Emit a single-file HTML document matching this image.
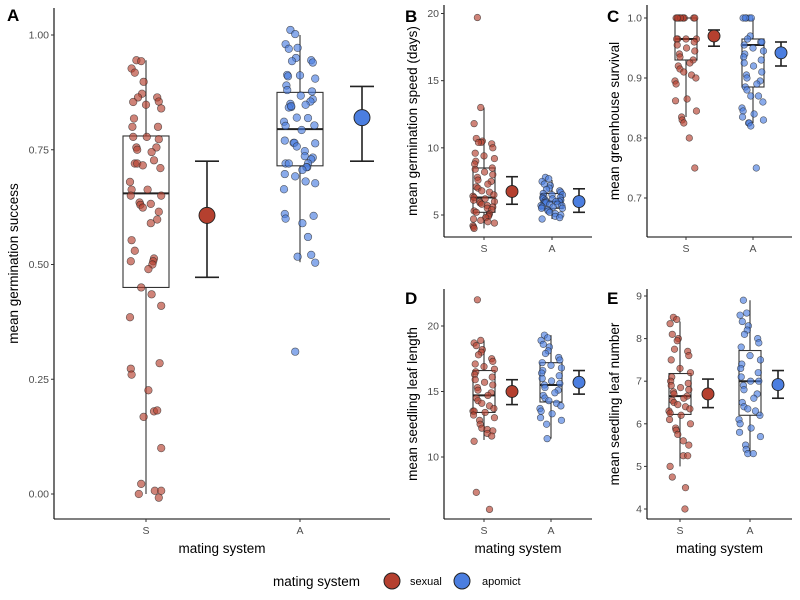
<!DOCTYPE html>
<html><head><meta charset="utf-8">
<style>
body{margin:0;background:#fff;}
svg{display:block;font-family:"Liberation Sans",Arial,sans-serif;}
</style></head>
<body>
<svg id="chart" width="800" height="600" viewBox="0 0 800 600"></svg>
<script>
// ---- data ----
const categories = ["S","A"];
const groupNames = ["sexual","apomict"];
// Panel A: germination success
const aSexual = [.945,.943,.927,.918,.898,.872,.864,.864,.855,.854,.848,.84,.818,.80,.80,.778,.778,.773,.755,.75,.755,.745,.72,.72,.716,.727,.71,.68,.663,.663,.65,.65,.635,.63,.624,.632,.615,.59,.598,.553,.53,.513,.507,.5,.49,.507,.45,.435,.41,.385,.273,.26,.285,.226,.18,.182,.168,.10,.022,0,.007,.007,-.008];
const aApomict = [1.011,1.002,.98,.97,.972,.95,.943,.945,.94,.913,.912,.905,.91,.89,.877,.88,.868,.86,.85,.843,.855,.848,.842,.845,.82,.819,.803,.811,.802,.793,.77,.764,.765,.765,.757,.747,.733,.736,.729,.72,.72,.72,.712,.712,.706,.697,.692,.681,.677,.664,.61,.60,.606,.59,.56,.521,.517,.504,.31];
const aBox = {S:[0,.45,.655,.78,.945], A:[.505,.715,.795,.875,1.0]};
const aMean = [0.607,0.82]; const aLo=[0.472,0.725]; const aHi=[0.725,0.888];
// Panel B: germination speed
const bSexual = [19.7,13.0,11.8,10.7,10.5,10.4,10.4,10.3,10.0,9.6,9.4,9.2,9.0,8.8,8.5,8.4,8.2,8.0,7.8,7.6,7.5,7.3,7.1,7.0,6.8,6.7,6.5,6.4,6.3,6.2,6.1,6.0,6.0,5.9,5.8,5.7,5.6,5.5,5.4,5.3,5.2,5.1,5.0,4.9,4.8,4.7,4.6,4.5,4.4,4.2,4.1,4.0];
const bApomict = [7.8,7.7,7.5,7.3,7.2,7.0,6.9,6.8,6.7,6.6,6.5,6.5,6.4,6.3,6.3,6.2,6.2,6.1,6.1,6.0,6.0,6.0,5.9,5.9,5.8,5.8,5.7,5.7,5.6,5.6,5.5,5.5,5.4,5.3,5.2,5.1,5.0,4.9,4.8,4.7];
const bBox = {S:[4.0,5.2,6.3,8.5,13.0], A:[4.7,5.5,6.0,6.6,7.6]};
const bMean=[6.75,6.0]; const bLo=[5.8,5.2]; const bHi=[7.85,6.95];
// Panel C: greenhouse survival
const cSexual = [1,1,1,1,1,1,1,1,1,1,.965,.965,.965,.965,.96,.955,.95,.945,.94,.935,.93,.925,.92,.915,.91,.905,.90,.895,.89,.865,.862,.845,.835,.83,.825,.80,.75];
const cApomict = [1,1,1,1,1,.97,.965,.96,.96,.955,.95,.945,.94,.935,.93,.925,.92,.91,.905,.90,.895,.89,.885,.88,.87,.87,.86,.85,.845,.84,.835,.83,.825,.825,.82,.75];
const cBox = {S:[.835,.93,.965,1.0,1.0], A:[.825,.885,.955,.965,1.0]};
const cMean=[.97,.942]; const cLo=[.953,.92]; const cHi=[.98,.96];
// Panel D: seedling leaf length
const dSexual = [22.0,18.9,18.7,18.5,18.2,18.0,17.8,17.5,17.3,17.1,16.9,16.7,16.5,16.3,16.1,15.9,15.7,15.5,15.3,15.1,14.9,14.7,14.5,14.3,14.1,13.9,13.7,13.5,13.5,13.4,13.2,13.0,12.8,12.5,12.2,12.1,12.0,11.8,11.6,11.2,7.3,6.0];
const dApomict = [19.3,19.1,18.9,18.6,18.4,18.1,17.9,17.6,17.4,17.2,17.0,16.8,16.6,16.4,16.2,16.0,15.8,15.6,15.5,15.3,15.1,14.9,14.7,14.5,14.3,14.1,13.9,13.7,13.5,13.3,13.0,12.8,12.5,11.4];
const dBox = {S:[11.3,13.4,14.7,16.6,18.9], A:[11.4,14.2,15.5,17.2,19.3]};
const dMean=[15.0,15.7]; const dLo=[14.0,14.8]; const dHi=[15.9,16.6];
// Panel E: seedling leaf number
const eSexual = [8.5,8.45,8.35,8.1,8.0,7.95,7.75,7.7,7.6,7.5,7.3,7.2,7.1,7.0,6.95,6.9,6.85,6.8,6.75,6.7,6.65,6.6,6.55,6.5,6.45,6.4,6.35,6.3,6.25,6.2,6.1,6.0,5.9,5.85,5.75,5.6,5.5,5.25,5.25,5.0,4.75,4.5,4.0];
const eApomict = [8.9,8.6,8.55,8.4,8.3,8.2,8.1,8.0,7.9,7.8,7.6,7.5,7.4,7.3,7.2,7.1,7.0,7.0,6.9,6.8,6.7,6.6,6.5,6.4,6.35,6.3,6.2,6.1,6.0,5.9,5.8,5.7,5.5,5.4,5.3,5.3];
const eBox = {S:[5.0,6.22,6.65,7.18,8.4], A:[5.3,6.2,7.0,7.72,8.9]};
const eMean=[6.7,6.92]; const eLo=[6.38,6.6]; const eHi=[7.05,7.25];
// fixed jitter pattern (fraction of jitter width)
const jitter = [-.6,-.3,-.9,-.7,-.15,-.25,-.5,.7,.8,-.8,0,.95,-.75,-.85,.75,-.8,.05,.8,-.6,-.55,.65,.35,-.7,-.55,-.2,.5,.9,-1,-.9,.1,-.95,.95,-.4,-.35,-.2,.3,.8,.3,.7,-.9,-.7,.5,.45,.4,.15,-.95,-.3,.35,.95,-1,-.95,-.9,.85,.15,.5,.7,-.15,.95,-.3,-.45,.55,.95,.8,.6,-.45,.2,-.65,.1,.4,-.1];

const NS="http://www.w3.org/2000/svg";
const svg=document.getElementById('chart');
function el(tag,attrs,parent){const e=document.createElementNS(NS,tag);for(const k in attrs)e.setAttribute(k,attrs[k]);(parent||svg).appendChild(e);return e;}
const RED="#b5402f", BLUE="#4b7ee0";

function panel(p){
  const g=el('g',{});
  
  
  const y=v=>p.y0+(v-p.v0)*(p.y1-p.y0)/(p.v1-p.v0);
  // axes
  const ya=el('line',{x1:p.ax,y1:p.top,x2:p.ax,y2:p.bottom,stroke:'#000','stroke-width':1.1},g);
  
  const xa=el('line',{x1:p.ax,y1:p.bottom,x2:p.right,y2:p.bottom,stroke:'#000','stroke-width':1.1},g);
  
  p.ticks.forEach((t,i)=>{
    const yy=y(t);
    el('line',{x1:p.ax-3,y1:yy,x2:p.ax,y2:yy,stroke:'#333'},g);
    const tx=el('text',{x:p.ax-5,y:yy+3.5,'text-anchor':'end','font-size':10.5,fill:'#4d4d4d'},g);
    tx.textContent=p.tickLabels[i];
    
  });
  categories.forEach((c,i)=>{
    const cx=p.cx[i];
    el('line',{x1:cx,y1:p.bottom,x2:cx,y2:p.bottom+3,stroke:'#333'},g);
    const tx=el('text',{x:cx,y:p.bottom+15,'text-anchor':'middle','font-size':10.5,fill:'#4d4d4d'},g);
    tx.textContent=c;
    
    // box
    const b=p.box[c];
    const hw=p.bw;
    el('line',{x1:cx,y1:y(b[0]),x2:cx,y2:y(b[1]),stroke:'#333','stroke-width':1.1},g);
    el('line',{x1:cx,y1:y(b[3]),x2:cx,y2:y(b[4]),stroke:'#333','stroke-width':1.1},g);
    const r=el('rect',{x:cx-hw,y:y(b[3]),width:2*hw,height:y(b[1])-y(b[3]),fill:'none',stroke:'#333','stroke-width':1.1},g);
    
    el('line',{x1:cx-hw,y1:y(b[2]),x2:cx+hw,y2:y(b[2]),stroke:'#222','stroke-width':2},g);
    // points
    const vals=i===0?p.s:p.a;
    vals.forEach((v,k)=>{
      const c1=el('circle',{cx:cx+jitter[k%jitter.length]*p.jw,cy:y(v),r:p.pr,fill:i===0?RED:BLUE,'fill-opacity':0.65,stroke:'#222','stroke-opacity':0.7,'stroke-width':0.6},g);
      
      
    });
    // mean + CI
    const mx=p.mx[i];
    el('line',{x1:mx,y1:y(p.lo[i]),x2:mx,y2:y(p.hi[i]),stroke:'#222','stroke-width':1.6},g);
    el('line',{x1:mx-p.cap,y1:y(p.lo[i]),x2:mx+p.cap,y2:y(p.lo[i]),stroke:'#222','stroke-width':1.6},g);
    el('line',{x1:mx-p.cap,y1:y(p.hi[i]),x2:mx+p.cap,y2:y(p.hi[i]),stroke:'#222','stroke-width':1.6},g);
    const m=el('circle',{cx:mx,cy:y(p.mean[i]),r:p.mr,fill:i===0?RED:BLUE,stroke:'#222','stroke-width':0.9},g);
    
  });
  const yt=el('text',{x:0,y:0,transform:`translate(${p.ytx},${(p.top+p.bottom)/2}) rotate(-90)`,'text-anchor':'middle','font-size':13.5,fill:'#000'},g);
  yt.textContent=p.ytitle;
  
  if(p.xtitle){
    const xt=el('text',{x:(p.ax+p.right)/2,y:p.bottom+34,'text-anchor':'middle','font-size':13.5,fill:'#000'},g);
    xt.textContent='mating system';
    
  }
  const lab=el('text',{x:p.lx,y:p.ly,'font-size':17,'font-weight':'bold',fill:'#000'},g);
  lab.textContent=p.key;
  
}

panel({key:'A',ax:54,right:390,top:8,bottom:519,v0:0,v1:1,y0:494,y1:35,ticks:[0,.25,.5,.75,1],tickLabels:['0.00','0.25','0.50','0.75','1.00'],
  cx:[146,300],mx:[207,362],bw:23,jw:16,pr:3.8,mr:8,cap:12,s:aSexual,a:aApomict,box:aBox,mean:aMean,lo:aLo,hi:aHi,
  ytitle:'mean germination success',ytx:18,xtitle:true,lx:7,ly:21});
panel({key:'B',ax:444,right:592,top:5,bottom:237,v0:5,v1:20,y0:215,y1:13.5,ticks:[5,10,15,20],tickLabels:['5','10','15','20'],
  cx:[484,552],mx:[512,579],bw:11,jw:11,pr:3.3,mr:6,cap:6,s:bSexual,a:bApomict,box:bBox,mean:bMean,lo:bLo,hi:bHi,
  ytitle:'mean germination speed (days)',ytx:417,xtitle:false,lx:405,ly:22});
panel({key:'C',ax:647,right:792,top:5,bottom:237,v0:0.7,v1:1.0,y0:198,y1:18,ticks:[.7,.8,.9,1.0],tickLabels:['0.7','0.8','0.9','1.0'],
  cx:[686,753],mx:[714,781],bw:11,jw:11,pr:3.3,mr:6,cap:6,s:cSexual,a:cApomict,box:cBox,mean:cMean,lo:cLo,hi:cHi,
  ytitle:'mean greenhouse survival',ytx:619,xtitle:false,lx:607,ly:22});
panel({key:'D',ax:444,right:592,top:289,bottom:519,v0:10,v1:20,y0:457,y1:326,ticks:[10,15,20],tickLabels:['10','15','20'],
  cx:[484,551],mx:[512,579],bw:11,jw:11,pr:3.3,mr:6,cap:6,s:dSexual,a:dApomict,box:dBox,mean:dMean,lo:dLo,hi:dHi,
  ytitle:'mean seedling leaf length',ytx:417,xtitle:true,lx:405,ly:304});
panel({key:'E',ax:647,right:792,top:289,bottom:519,v0:4,v1:9,y0:509,y1:296,ticks:[4,5,6,7,8,9],tickLabels:['4','5','6','7','8','9'],
  cx:[680,750],mx:[708,778],bw:11,jw:11,pr:3.3,mr:6,cap:6,s:eSexual,a:eApomict,box:eBox,mean:eMean,lo:eLo,hi:eHi,
  ytitle:'mean seedling leaf number',ytx:619,xtitle:true,lx:607,ly:304});

// legend
const lg=el('g',{});


const lt=el('text',{x:273,y:586,'font-size':13.5,fill:'#000'},lg);lt.textContent='mating system';

const l1=el('circle',{cx:392,cy:581,r:8,fill:RED,stroke:'#222','stroke-width':1},lg);

const t1=el('text',{x:410,y:585,'font-size':11,fill:'#000'},lg);t1.textContent='sexual';

const l2=el('circle',{cx:462,cy:581,r:8,fill:BLUE,stroke:'#222','stroke-width':1},lg);

const t2=el('text',{x:482,y:585,'font-size':11,fill:'#000'},lg);t2.textContent='apomict';

</script>
</body></html>
